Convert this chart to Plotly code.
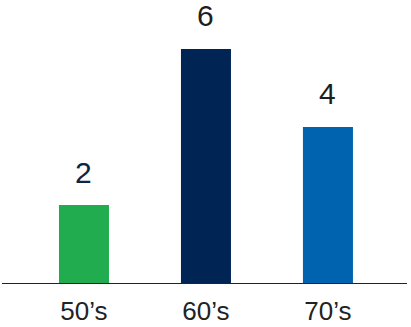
import plotly.graph_objects as go

categories = ["50’s", "60’s", "70’s"]
values = [2, 6, 4]
colors = ["#21AD4F", "#002453", "#0063AF"]
label_colors = ["#0B2548", "#1E1E1E", "#1E1E1E"]

fig = go.Figure()
fig.add_trace(go.Bar(x=categories, y=values, marker=dict(color=colors, line=dict(width=0)),
                     width=0.41, hoverinfo="skip"))

for c, v, lc in zip(categories, values, label_colors):
    fig.add_annotation(x=c, y=v, text=str(v), showarrow=False, yanchor="middle",
                       yshift=33, font=dict(family="Liberation Sans, Arial", size=30, color=lc))

fig.update_layout(
    width=411, height=327, margin=dict(l=2, r=4, t=0, b=44),
    paper_bgcolor="white", plot_bgcolor="white", showlegend=False,
    xaxis=dict(range=[-0.672, 2.648], showline=True, linecolor="#222222", linewidth=1,
               showgrid=False, zeroline=False, ticks="", ticklabelstandoff=5, automargin=False,
               tickfont=dict(family="Liberation Sans, Arial", size=26, color="#222222")),
    yaxis=dict(range=[0, 7.256], visible=False, showgrid=False, zeroline=False, automargin=False),
)
fig.write_html("out.html")
